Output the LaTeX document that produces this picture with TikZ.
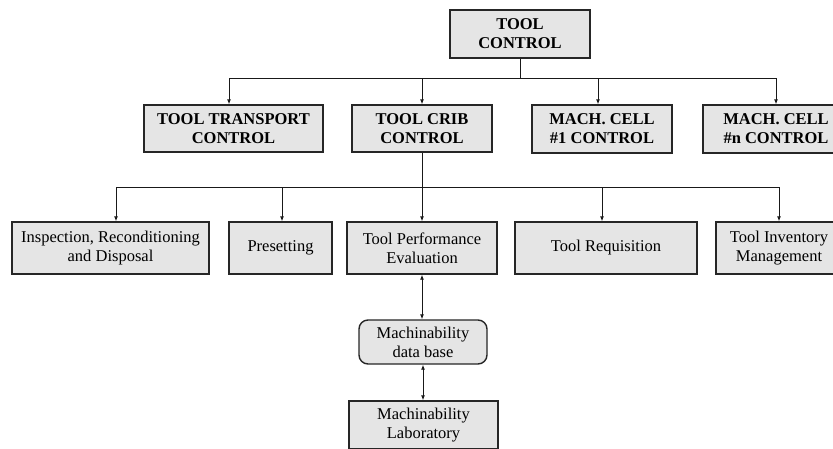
\documentclass[tikz,border=0pt]{standalone}
\usepackage{fontspec}
\setmainfont{Liberation Serif}
\usetikzlibrary{arrows.meta}

\begin{document}
\begin{tikzpicture}[x=1pt,y=-1pt,
  box/.style={draw=black!85, line width=1.4pt, fill=black!10, inner sep=0pt,
    align=center, font=\fontsize{16.5}{19}\selectfont},
  hbox/.style={box, font=\fontsize{16.5}{19}\selectfont\bfseries},
  rbox/.style={box, rounded corners=9pt},
  conn/.style={draw=black!90, line width=0.9pt, -{Latex[length=5pt,width=4pt]}},
  both/.style={conn, {Latex[length=5pt,width=4pt]}-{Latex[length=5pt,width=4pt]}},
  line/.style={draw=black!90, line width=0.9pt}]

\useasboundingbox (0,0) rectangle (833,448);
\clip (0,0) rectangle (833,448);

% top level
\node[hbox, minimum width=140, minimum height=48] (top) at (520,34) {TOOL\\CONTROL};

% second level
\node[hbox, minimum width=179, minimum height=47] (trans) at (233.5,128.5) {TOOL TRANSPORT\\CONTROL};
\node[hbox, minimum width=140, minimum height=47] (crib) at (422,128.5) {TOOL CRIB\\CONTROL};
\node[hbox, minimum width=140, minimum height=48] (m1) at (602,129) {MACH. CELL\\\#1 CONTROL};
\node[hbox, minimum width=146, minimum height=48] (mn) at (776,129) {MACH. CELL\\\#n CONTROL};

% third level
\node[box, minimum width=197, minimum height=52] (insp) at (110.5,248) {Inspection, Reconditioning\\and Disposal};
\node[box, minimum width=103, minimum height=52] (pre) at (280.5,248) {Presetting};
\node[box, minimum width=150, minimum height=52] (perf) at (422,248) {Tool Performance\\Evaluation};
\node[box, minimum width=182, minimum height=52] (req) at (606,248) {Tool Requisition};
\node[box, minimum width=126, minimum height=52] (inv) at (779,248) {Tool Inventory\\Management};

% machinability chain
\node[rbox, minimum width=128, minimum height=44] (db) at (423,342) {Machinability\\data base};
\node[box, minimum width=149, minimum height=48] (lab) at (423.5,425) {Machinability\\Laboratory};

% bus from tool control
\coordinate (bus1) at (520,78);
\draw[line] (top.south) -- (bus1);
\draw[conn] (bus1) -| ([xshift=-4.5pt]trans.north);
\draw[conn] (bus1) -| (crib.north);
\draw[conn] (bus1) -| ([xshift=-4pt]m1.north);
\draw[conn] (bus1) -| (mn.north);

% bus from tool crib control
\coordinate (bus2) at (422,187);
\draw[line] (crib.south) -- (bus2);
\draw[conn] (bus2) -| ([xshift=5.5pt]insp.north);
\draw[conn] (bus2) -| ([xshift=1.5pt]pre.north);
\draw[conn] (bus2) -- (perf.north);
\draw[conn] (bus2) -| ([xshift=-4pt]req.north);
\draw[conn] (bus2) -| (inv.north);

% two-way links
\draw[both] (perf.south) -- (perf.south |- db.north);
\draw[both] (db.south) -- (db.south |- lab.north);

\end{tikzpicture}
\end{document}
